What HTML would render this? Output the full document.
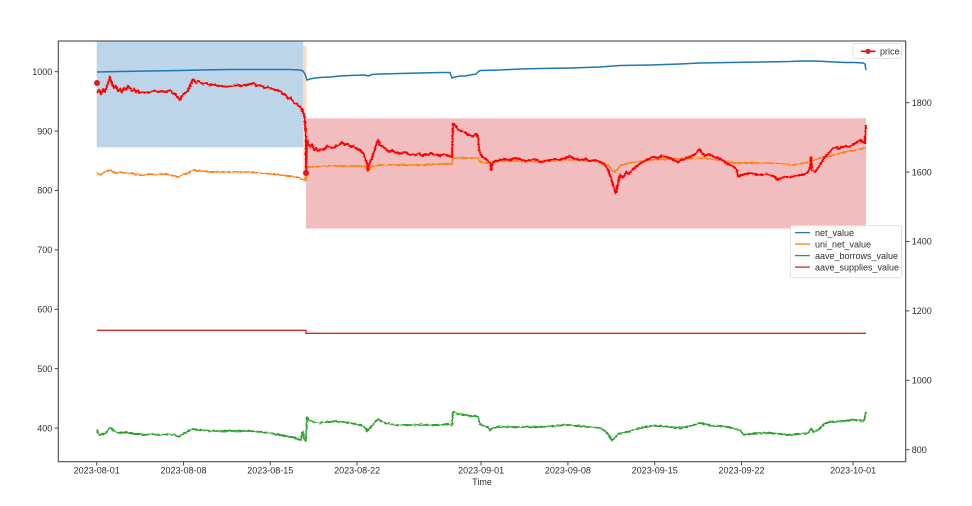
<!DOCTYPE html>
<html>
<head>
<meta charset="utf-8">
<style>
html,body{margin:0;padding:0;background:#fff;}
svg{display:block;}
text{font-family:"Liberation Sans",Arial,sans-serif;font-size:9px;fill:#2e2e2e;}
</style>
</head>
<body>
<svg width="972" height="506" viewBox="0 0 972 506" xmlns="http://www.w3.org/2000/svg">
<defs>
<filter id="jit" x="-5%" y="-20%" width="110%" height="140%">
<feTurbulence type="fractalNoise" baseFrequency="0.35 0.9" numOctaves="1" seed="3" result="t"/>
<feDisplacementMap in="SourceGraphic" in2="t" scale="3" xChannelSelector="R" yChannelSelector="G"/>
</filter>
</defs>
<rect x="0" y="0" width="972" height="506" fill="#fff"/>

<!-- shaded regions -->
<rect x="96.7" y="41" width="206.6" height="106.3" fill="#bcd5e8"/>
<rect x="303.3" y="46" width="3.2" height="136" fill="#fcdcc0"/>
<rect x="306" y="118.3" width="560" height="110.2" fill="#f2bdbe"/>

<!-- aave_supplies_value -->
<polyline fill="none" stroke="#d62728" stroke-width="1.4" points="97,330.3 306,330.3 306,333.3 866,333.3"/>

<!-- net_value -->
<polyline fill="none" stroke="#1f77b4" stroke-width="1.5" stroke-linejoin="round" points="97,72 120,71.5 150,71 180,70.5 200,70 230,69.5 260,69.5 290,69.5 300,70 303,71 305,74 307,80 310,79 315,78 320,77.5 330,77 340,76 350,75.5 365,75 368,76 372,74.5 380,74 400,73.5 420,73 440,72.5 450,72.5 452,78 455,77 460,76 465,76 470,75 476,74 478,72 480,70.5 500,70 520,69 540,68.5 570,68 600,67 620,65.5 650,65 680,64 700,63 730,62.5 760,62 790,61.5 800,61 815,61 825,61.5 835,62 845,62.5 855,62.5 863,63 865,64 866,70"/>

<!-- uni_net_value -->
<g filter="url(#jit)">
<polyline fill="none" stroke="#ff7f0e" stroke-width="1.5" stroke-linejoin="round" points="97,172 99,175 102,174 105,172 108,171 110,170 113,172 116,173 120,172 125,173 130,173 135,174 140,175 145,175 150,174 155,175 160,174 165,174 170,175 175,176 178,177 182,175 186,174 190,172 193,170 197,171 202,171 210,172 220,172 230,172 240,172 250,172 260,173 270,174 280,175 290,176 296,177 300,178 303,180 305,178 306,181 307,167 315,167 325,166 340,166 355,166 365,166 367,170 368,172 371,167 380,165 400,165 420,165 440,164 452,164 453,158 465,158 478,158 480,162 490,163 500,161 520,161 540,161 560,160 580,160 600,161 608,165 612,170 615,172 620,166 625,164 635,162 650,160 670,159 700,158 720,160 735,163 750,163 770,163 785,164 790,165 800,164 810,162 820,158 830,156 840,153 850,151 860,149 866,148"/>
</g>

<!-- aave_borrows_value -->
<g filter="url(#jit)">
<polyline fill="none" stroke="#2ca02c" stroke-width="1.8" stroke-linejoin="round" points="97,430 98,434 100,435 103,434 106,433 108,430 110,428 113,430 116,432 120,433 125,432 130,433 135,434 140,434 145,435 150,434 160,435 170,434 175,435 178,437 180,436 183,434 187,432 190,430 193,429 197,430 202,430 210,431 220,431 230,431 240,431 250,431 260,432 270,433 280,435 285,436 290,437 295,438 298,439 301,440 302,433 303,432 304,438 305,441 306,440 307,417 309,420 312,421 316,423 320,423 325,422 330,422 335,421 340,422 345,422 350,423 355,424 360,425 363,426 365,428 367,431 369,429 372,426 375,422 378,419 381,421 385,423 390,424 395,425 400,425 410,425 420,425 430,425 440,425 447,424 450,425 452,425 453,412 456,413 460,414 465,415 470,416 475,416 478,417 480,424 484,426 488,427 490,430 493,428 497,427 505,427 520,427 540,427 555,426 565,425 570,425 580,426 590,427 600,428 605,431 608,434 612,440 615,438 618,434 622,433 627,432 633,430 640,428 650,426 660,426 670,427 680,428 690,426 697,424 700,423 705,424 712,426 720,426 728,427 735,429 740,430 743,434 746,435 750,434 760,433 770,433 780,434 790,435 800,434 808,433 811,429 813,432 818,430 822,426 826,423 830,422 835,422 840,421 845,421 850,420 855,420 860,420 864,421 866,412"/>
</g>

<!-- price -->
<g filter="url(#jit)">
<polyline fill="none" stroke="#ff0000" stroke-width="2.1" stroke-linejoin="round" points="97,93 99,90 101,94 103,89 105,92 107,86 109,80 110,77 112,84 114,88 116,86 118,91 120,89 122,92 124,88 126,90 128,86 130,88 132,91 134,89 136,92 138,91 140,93 143,92 146,93 150,92 154,91 158,92 162,91 166,92 170,90 173,93 176,95 178,98 180,100 182,96 185,93 188,91 190,86 192,81 194,80 196,83 198,81 200,82 203,84 206,83 209,85 212,84 215,85 218,86 222,86 226,87 230,86 234,86 238,85 242,86 246,85 250,84 254,83 256,86 258,85 262,86 265,88 268,87 272,89 276,90 280,91 283,94 286,95 288,99 291,98 294,103 297,104 300,107 302,109 304,115 305,122 306,135 306,175 307,140 308,143 310,147 312,144 314,150 316,148 318,151 321,149 324,150 327,146 330,147 333,148 336,146 339,145 342,142 345,145 348,144 351,147 354,146 357,149 360,150 363,153 365,158 367,163 368,170 370,162 372,158 374,152 376,145 378,140 380,145 383,147 386,149 389,152 392,150 395,152 398,153 401,154 404,152 407,153 410,155 413,154 416,155 419,153 422,156 425,154 428,155 431,153 434,155 437,154 440,156 443,154 446,155 449,156 452,157 453,124 455,125 458,129 461,131 464,132 467,134 470,135 473,136 476,134 478,137 479,150 481,155 484,158 487,160 490,163 491,170 493,162 496,161 500,160 505,159 510,160 515,158 520,159 525,161 530,160 535,159 540,162 545,161 550,160 555,159 560,160 565,158 570,156 575,159 580,160 585,159 590,161 595,160 600,162 605,165 608,170 611,178 614,188 616,193 618,183 620,175 623,178 626,172 629,174 632,170 635,168 638,165 641,163 644,161 647,160 650,158 654,157 658,158 662,156 666,157 670,158 674,160 678,162 682,160 686,158 690,157 694,155 698,151 700,149 702,153 705,156 708,154 711,155 714,157 718,158 722,160 726,163 730,165 734,167 737,170 738,177 741,175 745,174 750,173 755,174 760,175 765,174 770,175 775,177 778,180 781,178 785,177 790,177 795,176 800,175 805,174 808,172 810,168 811,157 812,170 815,172 818,168 821,163 824,158 827,155 830,152 833,148 836,147 839,149 842,147 845,146 848,147 851,146 854,144 857,142 860,140 863,142 865,143 866,125"/>
</g>
<!-- price markers -->
<circle cx="97" cy="83" r="3" fill="#e31a1c"/>
<circle cx="306" cy="173" r="3" fill="#e31a1c"/>

<!-- axes frame -->
<rect x="58.3" y="41" width="847.4" height="420.7" fill="none" stroke="#4a4a4a" stroke-width="1.1"/>

<!-- ticks -->
<g stroke="#4a4a4a" stroke-width="1">
<line x1="54.5" y1="71.7" x2="58.3" y2="71.7"/>
<line x1="54.5" y1="131.1" x2="58.3" y2="131.1"/>
<line x1="54.5" y1="190.5" x2="58.3" y2="190.5"/>
<line x1="54.5" y1="249.9" x2="58.3" y2="249.9"/>
<line x1="54.5" y1="309.3" x2="58.3" y2="309.3"/>
<line x1="54.5" y1="368.7" x2="58.3" y2="368.7"/>
<line x1="54.5" y1="428.1" x2="58.3" y2="428.1"/>
<line x1="905.7" y1="102.7" x2="909.5" y2="102.7"/>
<line x1="905.7" y1="172.1" x2="909.5" y2="172.1"/>
<line x1="905.7" y1="241.5" x2="909.5" y2="241.5"/>
<line x1="905.7" y1="310.9" x2="909.5" y2="310.9"/>
<line x1="905.7" y1="380.3" x2="909.5" y2="380.3"/>
<line x1="905.7" y1="449.7" x2="909.5" y2="449.7"/>
<line x1="96.7" y1="461.7" x2="96.7" y2="465.5"/>
<line x1="183.5" y1="461.7" x2="183.5" y2="465.5"/>
<line x1="270.3" y1="461.7" x2="270.3" y2="465.5"/>
<line x1="357.1" y1="461.7" x2="357.1" y2="465.5"/>
<line x1="481.1" y1="461.7" x2="481.1" y2="465.5"/>
<line x1="567.9" y1="461.7" x2="567.9" y2="465.5"/>
<line x1="654.7" y1="461.7" x2="654.7" y2="465.5"/>
<line x1="741.5" y1="461.7" x2="741.5" y2="465.5"/>
<line x1="853.1" y1="461.7" x2="853.1" y2="465.5"/>
</g>

<g text-anchor="end">
<text x="52.3" y="74.9">1000</text>
<text x="52.3" y="134.3">900</text>
<text x="52.3" y="193.7">800</text>
<text x="52.3" y="253.1">700</text>
<text x="52.3" y="312.5">600</text>
<text x="52.3" y="371.9">500</text>
<text x="52.3" y="431.3">400</text>
</g>
<g text-anchor="start">
<text x="911.7" y="105.9">1800</text>
<text x="911.7" y="175.3">1600</text>
<text x="911.7" y="244.7">1400</text>
<text x="911.7" y="314.1">1200</text>
<text x="911.7" y="383.5">1000</text>
<text x="911.7" y="452.9">800</text>
</g>
<g text-anchor="middle">
<text x="96.7" y="473.3">2023-08-01</text>
<text x="183.5" y="473.3">2023-08-08</text>
<text x="270.3" y="473.3">2023-08-15</text>
<text x="357.1" y="473.3">2023-08-22</text>
<text x="481.1" y="473.3">2023-09-01</text>
<text x="567.9" y="473.3">2023-09-08</text>
<text x="654.7" y="473.3">2023-09-15</text>
<text x="741.5" y="473.3">2023-09-22</text>
<text x="853.1" y="473.3">2023-10-01</text>
<text x="482" y="485">Time</text>
</g>

<!-- legend: price -->
<rect x="853" y="43.5" width="48.5" height="15" rx="2" fill="#fff" fill-opacity="0.85" stroke="#dcdcdc" stroke-width="0.8"/>
<line x1="861" y1="51.3" x2="875.5" y2="51.3" stroke="#ff0000" stroke-width="1.6"/>
<circle cx="868" cy="51.3" r="2.6" fill="#e31a1c"/>
<text x="880" y="54.5">price</text>

<!-- legend: values -->
<rect x="790.5" y="225.5" width="111" height="52" rx="2" fill="#fff" fill-opacity="0.85" stroke="#dcdcdc" stroke-width="0.8"/>
<line x1="795" y1="232.6" x2="810" y2="232.6" stroke="#1f77b4" stroke-width="1.3"/>
<line x1="795" y1="244.1" x2="810" y2="244.1" stroke="#ff7f0e" stroke-width="1.3"/>
<line x1="795" y1="255.6" x2="810" y2="255.6" stroke="#2ca02c" stroke-width="1.3"/>
<line x1="795" y1="267.1" x2="810" y2="267.1" stroke="#d62728" stroke-width="1.3"/>
<text x="815" y="235.8">net_value</text>
<text x="815" y="247.3">uni_net_value</text>
<text x="815" y="258.8">aave_borrows_value</text>
<text x="815" y="270.3">aave_supplies_value</text>
</svg>
</body>
</html>
